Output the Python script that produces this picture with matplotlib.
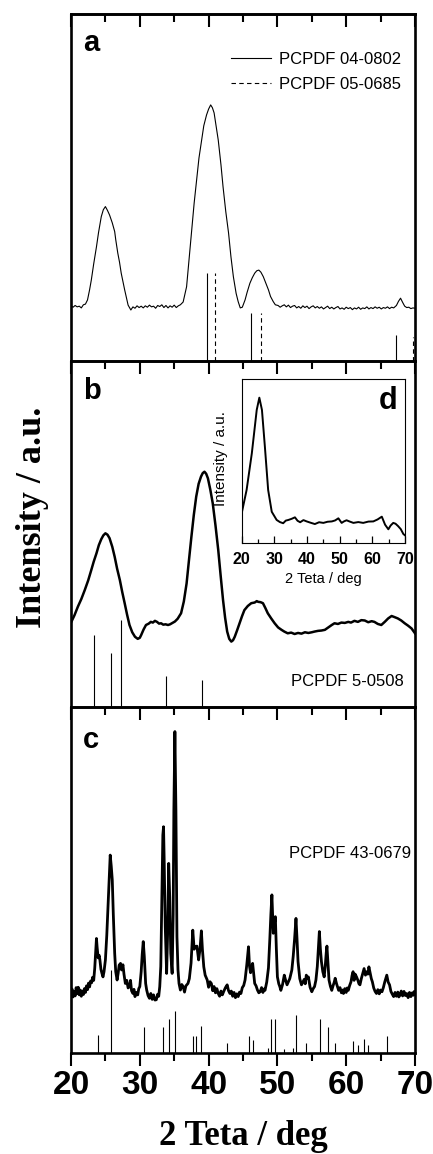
import matplotlib
matplotlib.use('Agg')
import matplotlib.pyplot as plt
from matplotlib.ticker import MultipleLocator
from matplotlib.lines import Line2D

plt.rcParams['font.family'] = ['Liberation Sans', 'DejaVu Sans']

# ---------------- data ----------------
# Panel a
a_x = [20.0, 20.3, 20.6, 20.9, 21.2, 21.5, 21.8, 22.1, 22.4, 22.7, 22.95, 23.3, 23.7, 24.0, 24.4, 24.7, 25.0,
       25.3, 25.6, 26.0, 26.35, 26.5, 26.8, 27.05, 27.3, 27.8, 28.3, 28.7, 29.0, 29.3, 29.6, 29.9, 30.2, 30.5,
       30.8, 31.1, 31.4, 31.7, 32.0, 32.3, 32.6, 32.9, 33.2, 33.5, 33.8, 34.1, 34.4, 34.7, 35.0, 35.3, 35.6,
       35.9, 36.3, 36.8, 37.1, 37.5, 37.9, 38.3, 38.6, 39.0, 39.3, 39.7, 40.0, 40.3, 40.55, 40.8, 41.1, 41.4,
       41.8, 42.1, 42.5, 42.9, 43.25, 43.6, 44.0, 44.3, 44.6, 44.9, 45.3, 45.6, 46.0, 46.35, 46.7, 47.0, 47.3,
       47.6, 47.95, 48.3, 48.7, 49.0, 49.4, 49.7, 50.1, 50.4, 50.7, 51.0, 51.3, 51.6, 51.9, 52.2, 52.5, 52.8,
       53.1, 53.4, 53.7, 54.0, 54.3, 54.6, 54.9, 55.2, 55.5, 55.8, 56.1, 56.4, 56.7, 57.0, 57.3, 57.6, 57.9,
       58.2, 58.5, 58.8, 59.1, 59.4, 59.7, 60.0, 60.3, 60.6, 60.9, 61.2, 61.5, 61.8, 62.1, 62.4, 62.7, 63.0,
       63.3, 63.6, 63.9, 64.2, 64.5, 64.8, 65.1, 65.4, 65.7, 66.0, 66.3, 66.6, 66.9, 67.3, 67.6, 67.9, 68.2,
       68.5, 68.8, 69.1, 69.4, 69.7, 70.0]
a_y = [15.9, 15.5, 16.0, 15.6, 15.8, 15.3, 16.2, 16.4, 17.6, 20.5, 23.3, 28.0, 32.9, 37.0, 41.6, 43.6, 44.5,
       43.4, 42.1, 39.8, 37.3, 35.0, 31.1, 28.5, 25.3, 20.5, 16.1, 14.7, 15.6, 15.2, 15.9, 15.4, 15.8, 15.3,
       15.9, 15.5, 16.1, 15.6, 15.8, 15.2, 16.0, 15.7, 16.2, 15.4, 16.0, 15.3, 15.9, 15.5, 16.1, 15.4, 15.9,
       16.2, 17.0, 21.4, 28.0, 36.9, 45.5, 53.1, 58.5, 63.7, 67.8, 70.9, 72.6, 73.8, 73.0, 71.5, 67.5, 63.7,
       56.5, 50.2, 43.0, 36.9, 30.0, 24.3, 19.5, 17.1, 15.3, 15.5, 17.6, 19.8, 22.4, 24.0, 25.3, 26.0, 26.2,
       25.6, 24.3, 22.5, 20.5, 18.6, 17.1, 16.2, 16.0, 15.5, 15.9, 16.2, 15.6, 16.1, 15.4, 15.8, 16.0, 15.3,
       15.7, 15.2, 15.9, 15.4, 15.8, 15.1, 15.6, 15.9, 15.3, 15.7, 15.2, 15.6, 15.0, 15.4, 15.8, 15.1, 15.5,
       15.0, 15.4, 15.7, 15.0, 15.3, 14.9, 15.5, 15.1, 15.4, 14.8, 15.3, 15.0, 15.5, 14.9, 15.3, 15.1, 15.6,
       15.0, 15.4, 15.1, 15.6, 15.2, 15.5, 15.0, 15.4, 15.2, 15.6, 15.1, 15.5, 15.3, 16.0, 17.2, 18.1, 16.9,
       15.8, 15.4, 15.5, 15.1, 15.3, 15.2]
a_ref1_pos = [39.7, 46.1, 67.3]      # PCPDF 04-0802 (solid)
a_ref1_h = [25.4, 13.8, 7.5]
a_ref2_pos = [40.9, 47.6, 69.7]      # PCPDF 05-0685 (dashed)
a_ref2_h = [25.4, 13.8, 7.0]

# Panel b
b_x = [20.0, 20.5, 21.0, 21.5, 22.0, 22.5, 22.95, 23.3, 23.7, 24.05, 24.4, 24.7, 25.0, 25.3, 25.6, 26.0,
       26.35, 26.7, 27.1, 27.45, 27.8, 28.15, 28.5, 28.9, 29.3, 29.7, 30.0, 30.2, 30.55, 30.9, 31.3, 31.6,
       31.9, 32.2, 32.5, 32.8, 33.1, 33.4, 33.75, 34.1, 34.4, 34.75, 35.1, 35.5, 36.0, 36.4, 36.8, 37.15,
       37.5, 37.85, 38.2, 38.55, 38.9, 39.15, 39.4, 39.65, 39.9, 40.25, 40.6, 41.0, 41.4, 41.75, 42.1, 42.4,
       42.7, 43.0, 43.3, 43.55, 43.8, 44.15, 44.5, 44.85, 45.2, 45.7, 46.2, 46.7, 47.0, 47.2, 47.55, 47.9,
       48.25, 48.6, 49.1, 49.6, 50.1, 50.6, 51.0, 51.5, 52.0, 52.5, 53.0, 53.5, 54.0, 54.5, 55.0, 55.4, 55.9,
       56.4, 56.9, 57.4, 57.9, 58.3, 58.8, 59.3, 59.8, 60.3, 60.7, 61.2, 61.7, 62.2, 62.7, 63.2, 63.7, 64.1,
       64.6, 65.1, 65.6, 66.1, 66.6, 67.0, 67.5, 68.0, 68.5, 69.0, 69.5, 70.0]
b_y = [24.4, 26.5, 29.0, 31.2, 33.8, 36.6, 39.6, 42.0, 44.4, 46.8, 48.5, 49.6, 50.2, 49.8, 48.8, 46.3,
       43.4, 40.0, 36.7, 33.2, 30.0, 26.7, 23.7, 21.6, 20.3, 19.7, 20.0, 20.8, 22.4, 23.7, 24.1, 24.6,
       24.4, 24.9, 24.6, 24.1, 24.2, 23.8, 23.9, 23.7, 23.9, 24.3, 24.7, 25.5, 27.1, 30.5, 35.7, 42.5,
       49.2, 55.5, 60.8, 64.5, 66.6, 67.6, 68.0, 67.4, 66.1, 62.8, 58.9, 52.5, 45.4, 38.0, 30.9, 25.8,
       21.8, 19.7, 18.9, 19.3, 20.3, 22.2, 24.2, 26.2, 28.0, 29.2, 30.0, 30.2, 30.6, 30.4, 30.3, 30.0,
       28.6, 27.1, 25.6, 24.2, 23.0, 22.3, 21.8, 21.3, 21.5, 21.1, 21.4, 21.2, 21.6, 21.4, 21.6, 21.8, 22.0,
       22.1, 22.3, 23.0, 23.7, 24.2, 24.0, 24.4, 24.3, 24.6, 24.4, 24.9, 24.6, 25.1, 25.0, 24.5, 24.8, 24.6,
       24.0, 23.7, 24.6, 25.6, 26.3, 26.0, 25.6, 25.0, 24.2, 23.5, 22.7, 21.3]
b_ref_pos = [23.4, 25.8, 27.3, 33.8, 39.0]   # PCPDF 5-0508
b_ref_h = [20.8, 15.6, 25.1, 9.0, 7.8]

# Panel c
c_x = [20.0, 20.15, 20.3, 20.45, 20.6, 20.75, 20.9, 21.05, 21.2, 21.35, 21.5, 21.65, 21.8, 21.95, 22.1,
       22.25, 22.4, 22.55, 22.7, 22.85, 23.0, 23.15, 23.3, 23.45, 23.6, 23.7, 23.8, 23.95, 24.1, 24.2, 24.35,
       24.5, 24.65, 24.8, 25.0, 25.2, 25.4, 25.55, 25.7, 25.85, 26.0, 26.15, 26.35, 26.5, 26.7, 26.85, 27.0,
       27.2, 27.35, 27.55, 27.7, 27.9, 28.1, 28.3, 28.5, 28.65, 28.8, 29.0, 29.15, 29.3, 29.5, 29.7, 29.85,
       30.0, 30.2, 30.35, 30.5, 30.65, 30.85, 31.0, 31.2, 31.4, 31.6, 31.8, 32.0, 32.2, 32.4, 32.6, 32.75,
       32.9, 33.05, 33.2, 33.35, 33.45, 33.55, 33.7, 33.9, 34.05, 34.2, 34.35, 34.5, 34.7, 34.85, 34.95,
       35.1, 35.25, 35.4, 35.55, 35.7, 35.9, 36.1, 36.3, 36.5, 36.7, 37.0, 37.2, 37.45, 37.7, 37.9, 38.1,
       38.3, 38.55, 38.75, 38.95, 39.1, 39.3, 39.5, 39.8, 40.0, 40.2, 40.4, 40.6, 40.8, 41.0, 41.2, 41.4,
       41.6, 41.8, 42.0, 42.2, 42.45, 42.7, 42.9, 43.1, 43.3, 43.5, 43.7, 43.9, 44.1, 44.3, 44.5, 44.7,
       44.9, 45.1, 45.3, 45.55, 45.8, 45.95, 46.1, 46.25, 46.4, 46.55, 46.7, 46.9, 47.1, 47.3, 47.5, 47.7,
       47.9, 48.05, 48.2, 48.45, 48.7, 48.9, 49.05, 49.2, 49.3, 49.4, 49.55, 49.7, 49.85, 50.0, 50.2, 50.35,
       50.5, 50.75, 51.0, 51.2, 51.4, 51.6, 51.8, 52.1, 52.3, 52.5, 52.7, 52.85, 53.0, 53.25, 53.5, 53.7,
       53.9, 54.05, 54.2, 54.35, 54.5, 54.75, 55.0, 55.2, 55.4, 55.6, 55.8, 55.95, 56.1, 56.25, 56.4, 56.6,
       56.8, 56.95, 57.1, 57.2, 57.35, 57.5, 57.7, 57.9, 58.1, 58.25, 58.4, 58.6, 58.9, 59.1, 59.3, 59.5,
       59.6, 59.8, 60.0, 60.15, 60.3, 60.5, 60.7, 60.85, 61.0, 61.15, 61.3, 61.5, 61.7, 61.85, 62.0, 62.2,
       62.4, 62.6, 62.8, 63.0, 63.15, 63.3, 63.5, 63.65, 63.8, 64.0, 64.2, 64.4, 64.6, 64.8, 65.0, 65.2,
       65.4, 65.6, 65.75, 65.9, 66.1, 66.3, 66.5, 66.7, 66.9, 67.1, 67.3, 67.5, 67.65, 67.8, 68.0, 68.2,
       68.4, 68.6, 68.8, 69.0, 69.2, 69.4, 69.6, 69.75, 69.9, 70.0]
c_y = [17.0, 18.5, 16.2, 17.8, 16.5, 18.9, 17.2, 19.0, 16.8, 18.2, 16.4, 17.9, 16.9, 18.6, 17.5,
       19.4, 18.3, 20.2, 19.1, 20.8, 20.3, 21.9, 21.0, 24.5, 30.0, 33.1, 30.5, 27.5, 28.2, 26.9, 24.2,
       23.0, 22.0, 23.5, 26.9, 34.0, 43.3, 51.0, 57.2, 54.0, 50.0, 40.0, 28.8, 23.5, 21.1, 23.0, 25.4,
       25.9, 24.0, 25.5, 22.8, 20.1, 21.0, 18.8, 19.2, 21.0, 18.0, 17.2, 18.4, 16.3, 17.5, 16.8, 18.6,
       19.2, 23.5, 28.5, 32.2, 28.0, 20.1, 18.2, 16.6, 15.8, 17.2, 15.5, 16.8, 15.3, 15.4, 17.0, 16.4,
       19.2, 25.0, 45.0, 63.0, 65.4, 55.0, 36.5, 23.0, 35.0, 54.8, 45.0, 28.8, 23.0, 40.0, 70.0,
       92.9, 70.0, 33.6, 24.0, 20.1, 18.2, 19.8, 19.2, 17.6, 19.4, 20.1, 21.5, 26.0, 35.5, 30.0, 30.7,
       30.9, 26.9, 30.0, 35.3, 30.0, 24.9, 22.5, 21.1, 19.0, 20.6, 20.1, 18.0, 19.2, 17.4, 18.6, 17.2,
       16.4, 17.9, 16.8, 17.8, 18.9, 19.7, 18.0, 17.2, 17.9, 16.4, 17.5, 16.0, 17.1, 16.3, 17.6, 17.2,
       18.9, 19.5, 21.1, 25.5, 30.7, 25.0, 23.2, 24.8, 25.9, 23.0, 20.1, 19.4, 18.2, 17.4, 17.7, 18.9,
       17.5, 18.5, 18.1, 20.5, 24.6, 33.0, 40.0, 45.7, 40.0, 34.6, 37.0, 39.4, 30.0, 22.0, 20.0, 19.2,
       18.1, 19.8, 22.5, 21.0, 19.7, 20.6, 21.5, 24.0, 28.0, 33.0, 38.9, 33.0, 26.4, 21.5, 19.7, 20.5,
       21.3, 20.0, 22.5, 21.5, 22.0, 19.0, 17.7, 18.6, 19.2, 21.1, 25.0, 30.0, 35.1, 30.0, 26.4, 23.5,
       22.0, 25.0, 29.0, 30.9, 26.0, 21.1, 19.3, 18.1, 19.5, 20.4, 21.6, 20.0, 18.1, 18.9, 17.4, 18.2,
       17.2, 18.6, 17.5, 18.8, 18.1, 19.5, 20.6, 22.4, 23.5, 21.0, 22.8, 22.0, 21.0, 20.0, 19.7, 21.5,
       23.0, 24.4, 22.5, 23.5, 22.8, 24.9, 23.0, 21.5, 20.6, 18.8, 17.8, 17.2, 18.3, 17.1, 18.2, 17.7,
       18.9, 20.5, 21.5, 22.5, 20.5, 19.7, 17.8, 17.0, 16.3, 17.5, 16.4, 17.6, 16.2, 16.7, 17.9, 16.5,
       17.8, 16.6, 17.2, 16.0, 17.5, 16.3, 17.4, 16.7, 17.8, 16.9]
c_ref_pos = [23.9, 25.8, 30.6, 33.4, 34.3, 35.1, 37.7, 38.2, 38.85, 42.7, 45.8, 46.5, 48.7, 49.1, 49.7,
             51.0, 52.3, 52.7, 54.2, 56.2, 57.3, 58.3, 61.0, 61.7, 62.6, 63.2, 66.0]   # PCPDF 43-0679
c_ref_h = [5.2, 24.0, 7.6, 7.6, 9.8, 12.1, 5.0, 5.0, 7.8, 2.9, 5.0, 3.8, 1.5, 9.8, 9.8,
           1.2, 1.5, 11.0, 2.9, 9.8, 7.6, 2.9, 3.5, 2.3, 4.0, 2.3, 5.0]

# Inset d
d_x = [20.0, 21.5, 23.1, 24.6, 25.4, 26.2, 27.1, 28.1, 29.2, 30.7, 31.7, 32.7, 33.5, 34.3, 35.3, 36.3,
       37.1, 37.9, 38.9, 39.9, 41.1, 42.4, 43.7, 45.0, 46.3, 47.6, 48.6, 49.6, 50.6, 51.3, 52.1, 53.1,
       54.2, 55.7, 57.2, 58.8, 60.3, 61.6, 62.9, 63.9, 64.9, 65.6, 66.4, 67.1, 67.9, 68.7, 69.5, 70.0]
d_y = [18.0, 32.2, 54.6, 81.1, 88.6, 81.1, 58.6, 32.2, 18.9, 13.9, 12.6, 11.9, 13.5, 13.9, 14.6, 15.5,
       13.4, 12.5, 13.8, 13.0, 12.2, 11.4, 12.5, 12.1, 12.8, 13.0, 13.6, 14.9, 12.1, 13.0, 13.7, 12.9,
       12.1, 12.6, 12.1, 12.9, 13.0, 14.2, 15.9, 11.0, 8.2, 10.5, 12.1, 11.6, 10.1, 8.3, 5.3, 4.5]

xmin, xmax = 20, 70
xticks_major = [20, 30, 40, 50, 60, 70]

# ---------------- layout ----------------
W, H = 433, 1154
fig = plt.figure(figsize=(W / 100, H / 100), dpi=100)


def fx(px):
    return px / W


def fy(py):
    return 1 - py / H


L, R = 71, 415
axa = fig.add_axes([fx(L), fy(361), (R - L) / W, (361 - 14) / H])
axb = fig.add_axes([fx(L), fy(707), (R - L) / W, (707 - 361) / H])
axc = fig.add_axes([fx(L), fy(1053), (R - L) / W, (1053 - 707) / H])

for ax in (axa, axb, axc):
    ax.set_xlim(xmin, xmax)
    ax.set_ylim(0, 100)
    ax.set_yticks([])
    ax.patch.set_visible(False)
    for s in ax.spines.values():
        s.set_linewidth(1.9)
    ax.set_xticks(xticks_major)
    ax.xaxis.set_minor_locator(MultipleLocator(5))
    ax.tick_params(axis='x', which='both', direction='out', bottom=True, top=False, width=1.5)
    ax.tick_params(axis='x', which='major', length=9.4)
    ax.tick_params(axis='x', which='minor', length=5.4)

axa.tick_params(axis='x', labelbottom=False)
axb.tick_params(axis='x', labelbottom=False)
for lab in axc.get_xticklabels():
    lab.set_fontweight('bold')
axc.tick_params(axis='x', which='major', labelsize=24, pad=3)

# top ticks of panel a (pointing inward)
sec = axa.secondary_xaxis('top')
sec.set_xticks(xticks_major)
sec.xaxis.set_minor_locator(MultipleLocator(5))
sec.tick_params(axis='x', which='both', direction='in', width=1.5, labeltop=False)
sec.tick_params(axis='x', which='major', length=9.4)
sec.tick_params(axis='x', which='minor', length=5.4)
sec.spines['top'].set_linewidth(1.9)

# panel a
axa.plot(a_x, a_y, color='k', lw=0.8)
axa.vlines(a_ref1_pos, 0, a_ref1_h, colors='k', lw=0.8)
axa.vlines(a_ref2_pos, 0, a_ref2_h, colors='k', lw=0.8, linestyles=(0, (4, 3)))
handles = [Line2D([], [], color='k', lw=0.8),
           Line2D([], [], color='k', lw=0.8, ls=(0, (4, 3)))]
axa.legend(handles, ['PCPDF 04-0802', 'PCPDF 05-0685'], loc='upper right',
           bbox_to_anchor=(1 - 14 / 344, 1 - 38 / 347), frameon=False, fontsize=12,
           handlelength=2.4, handletextpad=0.5, labelspacing=0.6, borderpad=0, borderaxespad=0)
axa.text(0.035, 0.916, 'a', transform=axa.transAxes, fontsize=21, fontweight='bold', va='center', ha='left')

# panel b
axb.plot(b_x, b_y, color='k', lw=1.8)
axb.vlines(b_ref_pos, 0, b_ref_h, colors='k', lw=0.8)
axb.text(0.968, 0.075, 'PCPDF 5-0508', transform=axb.transAxes, fontsize=12, ha='right', va='center')
axb.text(0.035, 0.913, 'b', transform=axb.transAxes, fontsize=21, fontweight='bold', va='center', ha='left')

# panel c
axc.plot(c_x, c_y, color='k', lw=2.0)
axc.vlines(c_ref_pos, 0, c_ref_h, colors='k', lw=0.8)
axc.text(0.988, 0.578, 'PCPDF 43-0679', transform=axc.transAxes, fontsize=12, ha='right', va='center')
axc.text(0.035, 0.905, 'c', transform=axc.transAxes, fontsize=21, fontweight='bold', va='center', ha='left')

# inset d
axd = fig.add_axes([fx(241.7), fy(542.7), 163.3 / W, 163.7 / H])
axd.plot(d_x, d_y, color='k', lw=1.4)
axd.set_xlim(xmin, xmax)
axd.set_ylim(0, 100)
axd.set_yticks([])
axd.set_xticks(xticks_major)
axd.xaxis.set_minor_locator(MultipleLocator(5))
for s in axd.spines.values():
    s.set_linewidth(0.8)
axd.tick_params(axis='x', which='both', direction='in', width=0.9, pad=7)
axd.tick_params(axis='x', which='major', length=5, labelsize=11.5)
axd.tick_params(axis='x', which='minor', length=3)
for lab in axd.get_xticklabels():
    lab.set_fontweight('bold')
axd.set_xlabel('2 Teta / deg', fontsize=10.5, labelpad=3)
axd.set_ylabel('Intensity / a.u.', fontsize=11)
axd.yaxis.set_label_coords(-0.082, 0.511)
axd.text(0.953, 0.866, 'd', transform=axd.transAxes, fontsize=22, fontweight='bold', va='center', ha='right')

# global labels
fig.text(fx(243), fy(1145), '2 Teta / deg', family=['Liberation Serif', 'DejaVu Serif'],
         fontweight='bold', fontsize=25, ha='center', va='baseline')
fig.text(fx(33), fy(517), 'Intensity / a.u.', family=['Liberation Serif', 'DejaVu Serif'],
         fontweight='bold', fontsize=26, ha='center', va='center', rotation=90)

fig.savefig('out.png', dpi=100)
